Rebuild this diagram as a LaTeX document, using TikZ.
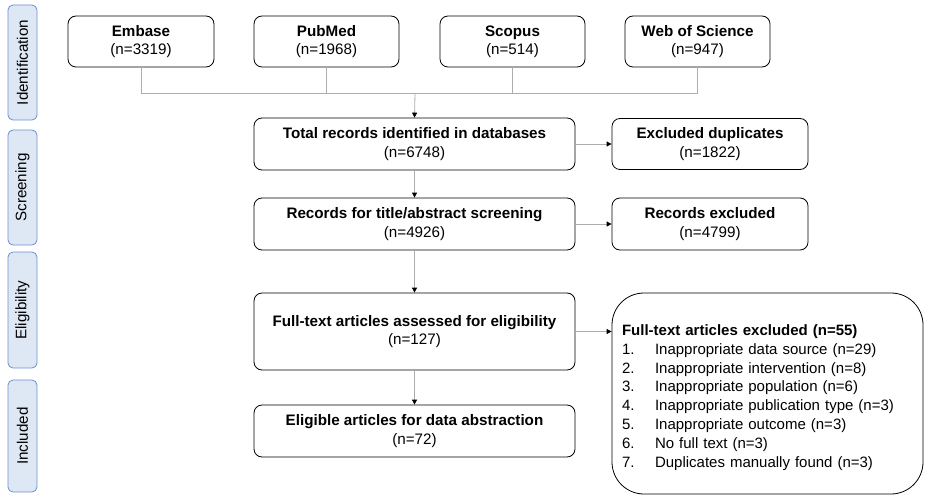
\documentclass[tikz,border=0pt]{standalone}
\usepackage{fontspec}
\setmainfont{Liberation Sans}
\usetikzlibrary{arrows.meta}
\definecolor{tabfill}{HTML}{DEE8F5}
\definecolor{tabline}{HTML}{6A8FCF}
\definecolor{conn}{HTML}{ADADAD}

\begin{document}
\begin{tikzpicture}[x=1pt,y=-1pt,
  every node/.style={font=\fontsize{15.2}{18.3}\selectfont},
  box/.style={draw=black, line width=0.8pt, rounded corners=8pt, align=center, inner sep=0pt},
  tab/.style={draw=tabline, fill=tabfill, line width=0.8pt, rounded corners=5pt,
              inner sep=0pt, rotate=90, minimum height=29pt},
  link/.style={draw=conn, line width=0.8pt},
  arr/.style={link, -{Triangle[black,length=5pt,width=5pt]}}
]
\useasboundingbox (0,0) rectangle (925,497);

% phase tabs
\node[tab, minimum width=115pt] (tid) at (22.5,62.5) {Identification};
\node[tab, minimum width=115pt] (tsc) at (22.5,187.5) {Screening};
\node[tab, minimum width=116pt] (tel) at (22.5,310) {Eligibility};
\node[tab, minimum width=112pt] (tin) at (22.5,436) {Included};

% database sources
\node[box, minimum width=146pt, minimum height=51pt] (emb) at (141,41.5) {\textbf{Embase}\\(n=3319)};
\node[box, minimum width=145pt, minimum height=51pt] (pub) at (326.5,41.5) {\textbf{PubMed}\\(n=1968)};
\node[box, minimum width=145pt, minimum height=51pt] (sco) at (512.5,41.5) {\textbf{Scopus}\\(n=514)};
\node[box, minimum width=145pt, minimum height=51pt] (wos) at (697.5,41.5) {\textbf{Web of Science}\\(n=947)};

% main flow
\node[box, minimum width=321pt, minimum height=52pt] (tot) at (414.5,144) {\textbf{Total records identified in databases}\\(n=6748)};
\node[box, minimum width=321pt, minimum height=52pt] (rec) at (414.5,224) {\textbf{Records for title/abstract screening}\\(n=4926)};
\node[box, minimum width=321pt, minimum height=77pt] (ful) at (414.5,331.5) {\textbf{Full-text articles assessed for eligibility}\\(n=127)};
\node[box, minimum width=321pt, minimum height=52pt] (eli) at (414.5,431) {\textbf{Eligible articles for data abstraction}\\(n=72)};

% exclusions
\node[box, minimum width=196pt, minimum height=51pt] (dup) at (710,144) {\textbf{Excluded duplicates}\\(n=1822)};
\node[box, minimum width=196pt, minimum height=52pt] (rex) at (710,224) {\textbf{Records excluded}\\(n=4799)};
\node[box, rounded corners=32pt, minimum width=311pt, minimum height=201pt,
      text width=291pt, align=left, inner xsep=10pt,
      font=\fontsize{15}{18.9}\selectfont] (fex) at (767.5,393.5)
  {\rule{0pt}{19pt}\textbf{Full-text articles excluded (n=55)}\\
   \makebox[33pt][l]{1.}Inappropriate data source (n=29)\\
   \makebox[33pt][l]{2.}Inappropriate intervention (n=8)\\
   \makebox[33pt][l]{3.}Inappropriate population (n=6)\\
   \makebox[33pt][l]{4.}Inappropriate publication type (n=3)\\
   \makebox[33pt][l]{5.}Inappropriate outcome (n=3)\\
   \makebox[33pt][l]{6.}No full text (n=3)\\
   \makebox[33pt][l]{7.}Duplicates manually found (n=3)};

% merging the database searches
\coordinate (bus) at (415,93);
\draw[link] (emb.south) |- (bus);
\draw[link] (wos.south) |- (bus);
\draw[link] (pub.south) -- (pub.south |- bus);
\draw[link] (sco.south) -- (sco.south |- bus);
\draw[arr] (bus) -- (tot.north);

% flow arrows
\draw[arr] (tot) -- (rec);
\draw[arr] (rec) -- (ful);
\draw[arr] (ful) -- (eli);
\draw[arr] (tot) -- (dup);
\draw[arr] (rec) -- (rex);
\draw[arr] (ful.east) -- (fex.west |- ful.east);
\end{tikzpicture}
\end{document}
